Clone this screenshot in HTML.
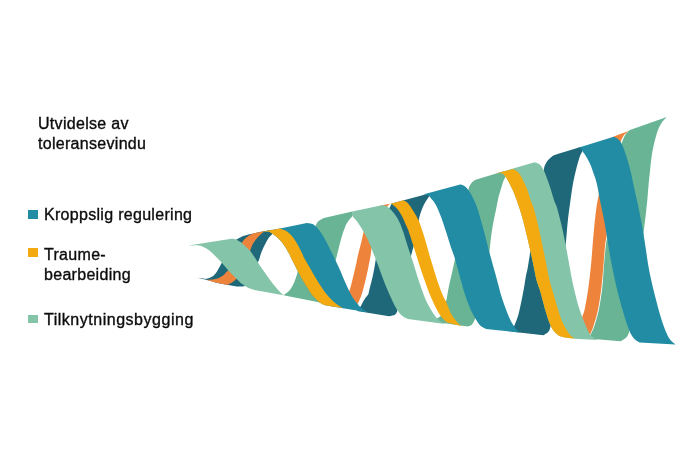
<!DOCTYPE html>
<html lang="no">
<head>
<meta charset="utf-8">
<title>Utvidelse av toleransevindu</title>
<style>
html,body{margin:0;padding:0;background:#fff;}
body{width:692px;height:462px;position:relative;overflow:hidden;font-family:"Liberation Sans",sans-serif;color:#0c0c0c;}
svg{position:absolute;left:0;top:0;}
.t{position:absolute;white-space:nowrap;font-size:16px;line-height:20px;letter-spacing:0.3px;-webkit-text-stroke:0.35px #0c0c0c;will-change:transform;}
.sq{position:absolute;width:9.4px;height:8.7px;}
</style>
</head>
<body>
<svg width="692" height="462" viewBox="0 0 692 462">
<path fill="#1f687a" d="M197.5 277.8L197.5 277.8C199 278 200.5 278.1 202 278.3C203.5 278.5 204.6 279.1 206.3 278.8C208 278.5 210.6 277.8 212.3 276.6C214 275.5 215.4 273.7 216.7 271.9C218 270.1 218.8 268.4 220.2 265.8C221.6 263.2 223.2 259.3 225 256C226.8 252.7 229.1 248.7 231 246C232.9 243.3 235.2 240.9 236.2 239.8C237.2 238.7 236.2 239.8 237.1 239.3C238 238.8 239.9 237.4 241.5 236.7C243.1 236 244.4 235.6 246.7 235C249 234.4 252.5 233.6 255.4 233C258.3 232.4 261.2 231.7 264 231.2C266.8 230.7 269.3 230.3 272 229.8L272 229.8C272.1 231.1 272.9 232.3 272.3 233.7C271.7 235.1 269.8 236.2 268.6 238C267.4 239.8 266.2 242.2 265 244.5C263.8 246.8 262.7 249 261.5 252C260.3 255 259.6 259 258 262.3C256.4 265.6 253.8 268.9 252 272C250.2 275.1 248.2 278.6 247 281C245.8 283.4 245.3 284.5 244.5 286.3L244.5 286.3C242.5 286.4 240.2 286.7 238.4 286.6C236.7 286.6 236.2 286.3 234 286C231.8 285.7 228.3 285.1 225.4 284.6C222.5 284.1 219.6 283.5 216.7 282.8C213.8 282.1 211.2 281 208 280.2C204.8 279.4 201 278.6 197.5 277.8Z"/>
<path fill="#ee843c" d="M207 279.8L207 279.8C208.7 279.7 210.4 279.8 212 279.6C213.6 279.4 214.9 279.4 216.7 278.8C218.5 278.2 221.2 276.9 222.8 275.8C224.4 274.7 225.3 273.2 226.2 272.3C227.1 271.4 226.9 272.7 228.4 270.1C229.9 267.5 232.8 261.1 235 256.5C237.2 251.9 240.1 245.9 241.9 242.8C243.7 239.7 244.6 239.2 245.8 238C247 236.8 248 236.2 249.3 235.4C250.6 234.6 252.2 234 253.6 233.3L264.9 231L264.9 231C263.7 231.9 262.7 232.5 261.4 233.7C260.1 234.9 258.5 236.3 257.1 238C255.7 239.7 254 242 252.8 244.1C251.7 246.2 251.3 247.6 250.2 250.6C249.1 253.6 247.5 258.5 246 262C244.5 265.5 242.6 268.8 241 271.5C239.4 274.2 237.9 276.6 236.5 278.4C235.1 280.2 233.7 281.3 232.3 282.3C231 283.3 229.7 283.6 228.4 284.2L228.4 284.9C227.4 284.8 227.4 285 225.4 284.6C223.4 284.2 219.6 283.5 216.7 282.8C213.8 282.1 209.6 280.7 208 280.2C206.4 279.7 207.3 279.9 207 279.8Z"/>
<path fill="#68b494" d="M283.5 295.2L283.5 295.2C285.1 294.1 286.8 293.1 288.2 291.8C289.6 290.5 290.6 289.1 291.6 287.5C292.6 285.9 293.4 284.2 294.2 282.3C295 280.4 295.8 277.9 296.4 276.2C297 274.5 296.9 274.6 297.7 271.9C298.5 269.2 299.6 264.3 301 260C302.4 255.7 304.3 250.3 306 246C307.7 241.7 309.4 237.3 311 234C312.6 230.7 314.1 228.1 315.4 225.9C316.7 223.7 317.2 222.3 318.6 221C320 219.7 322.1 218.9 323.8 217.9L352.3 211.6L352.3 211.6C352.3 213 353 214.2 352.4 215.8C351.8 217.4 349.5 219.3 348.4 220.9C347.3 222.5 346.7 223.3 345.8 225.2C344.9 227.1 344.1 229.5 343.2 232.1C342.3 234.7 341.4 237.9 340.6 240.8C339.8 243.7 339.1 246.6 338.4 249.5C337.7 252.4 336.7 256.1 336.2 258.2C335.7 260.3 335.8 259.2 335.5 262C335.2 264.8 334.9 270.3 334.5 275C334.1 279.7 333.8 285.1 333 290C332.2 294.9 331 299.7 330 304.5L283.5 295.2Z"/>
<path fill="#ee843c" d="M342 307L342 307C343 304.7 343.8 302.6 345 300C346.2 297.4 348.1 293.7 349.1 291.4C350.1 289.1 350.1 288.8 350.8 286.2C351.5 283.6 352.5 279.6 353.4 275.8C354.3 272.1 355.4 267.2 356.2 263.7C357 260.2 357.1 258.7 358 255C358.9 251.3 360.4 245.8 361.4 241.7C362.4 237.6 362.9 234 364 230.4C365.1 226.8 366.3 223.2 368 220C369.7 216.8 371.9 213.4 374 211C376.1 208.6 378.3 207.4 380.4 205.6L390 203.7L390 203.7C389.1 204.7 388.8 204.2 387.3 206.6C385.8 209 382.9 213.8 381 218C379.1 222.2 377.5 227.3 376 232C374.5 236.7 372.9 242.2 372 246C371.1 249.8 371.1 252.3 370.7 255C370.3 257.6 370 259 369.4 261.9C368.8 264.8 368.1 268.7 367.3 272.3C366.5 275.9 365.6 280.1 364.7 283.6C363.8 287.1 363 290.5 362.1 293.2C361.2 295.9 360.3 298.1 359.5 300C358.7 301.9 357.9 303.1 357.2 304.6C356.4 306.1 355.7 307.5 355 309L342 307Z"/>
<path fill="#1f687a" d="M357 311L357 311C358.1 309.7 358.9 309 360.2 307C361.5 305 363.4 301.1 364.7 299C366 296.9 367.4 295.8 368.1 294.5C368.8 293.2 368.4 293.9 369 291.4C369.6 288.9 371.1 283.1 372 279.3C372.9 275.6 373.6 271.9 374.2 268.9C374.8 265.9 374.9 264.6 375.5 261.1C376.1 257.6 377 252.8 378 248C379 243.2 380.2 237.2 381.5 232C382.8 226.8 384.1 221.2 385.5 217C386.9 212.8 389 209.2 390 207C391 204.8 391.1 204.7 391.7 203.5L429 193.6L429 193.6C429.1 194.4 430.2 194.1 429.3 196C428.4 197.9 425.5 201.4 423.8 204.9C422.1 208.4 420.5 212.5 419.4 217C418.3 221.5 417.7 228 417 232C416.3 236 415.9 238.4 415.3 241C414.7 243.6 413.8 245.8 413.2 247.8C412.6 249.8 412.2 251.3 411.8 253C411.4 254.7 411.4 254.3 410.6 258C409.8 261.7 408.4 268.8 407 275C405.6 281.2 403.6 289.2 402 295C400.4 300.8 398.8 306.2 397.7 309.5C396.6 312.8 396.6 313.4 395.2 314.5C393.8 315.6 391.1 315.7 389 316.3L364.7 312.3L357 311Z"/>
<path fill="#68b494" d="M430 321.3L430 321.3C432.3 320.4 435.1 319.7 437 318.6C438.9 317.6 440.3 316.8 441.5 315C442.7 313.2 443.4 310.4 444.2 308C445 305.6 445.5 304.1 446.3 300.5C447.1 296.9 447.9 291.5 448.9 286.6C449.9 281.7 451.4 275.6 452.4 271C453.4 266.4 454.1 263.2 455 258.9C455.9 254.6 456.8 250.7 458 245C459.2 239.3 460.7 231.7 462 225C463.3 218.3 465 210.5 466 205C467 199.5 467.5 194.8 468 192C468.5 189.2 468.5 189.1 468.8 188C469.1 186.9 469.4 186.1 470 185.2C470.6 184.2 471.3 183.1 472.1 182.3C472.9 181.5 473.7 180.8 474.7 180.2C475.7 179.6 477 179.3 478.2 178.9L504.4 171.1L504.4 171.1C504.7 172.9 505.5 174.8 505.3 176.5C505.1 178.2 504.1 179.1 503.4 181C502.7 182.9 501.9 185.7 501.2 188C500.5 190.3 499.6 193.3 499.1 194.9C498.6 196.5 498.9 195.1 498.4 197.6C497.9 200.1 496.7 206.2 496 209.8C495.3 213.4 494.8 214.8 494 218.9C493.2 223 492.1 229.2 491.4 234.5C490.6 239.8 490.4 243.8 489.5 250.5C488.6 257.2 487.4 266.8 486 275C484.6 283.2 482.6 293.5 481 300C479.4 306.5 477.6 310.7 476.5 314C475.4 317.3 475.2 318.2 474.5 320C473.8 321.8 473.1 323.4 472 324.5C470.9 325.6 469.3 325.8 468 326.5L439.4 322.6L430 321.3Z"/>
<path fill="#1f687a" d="M512 331.5L512 331.5C512.7 329.8 513 329.3 514 326.5C515 323.7 517 319.4 518.3 314.9C519.6 310.4 520.8 304.2 521.8 299.3C522.8 294.4 523.7 289.4 524.4 285.4C525.1 281.3 525.5 278 526.1 275C526.7 272 527.1 271.4 527.8 267.4C528.5 263.4 529.5 256.4 530.4 251C531.3 245.6 532 241 533 235C534 229 535.3 221.7 536.5 215C537.7 208.3 538.9 201.3 540 195C541.1 188.7 542.3 181.5 543 177C543.7 172.5 543.6 170.2 544.1 168C544.6 165.8 545.1 164.9 545.8 163.6C546.4 162.3 546.9 161.4 548 160.2C549.1 159 550.8 157.2 552.3 156.2C553.8 155.2 555.2 154.9 556.7 154.3L581.5 146.8L581.5 146.8C581.8 148.2 582.5 149.5 582.3 151C582.1 152.5 580.8 153.8 580.1 155.8C579.4 157.8 578.7 160 577.9 162.8C577.1 165.6 576.2 168.9 575.4 172.6C574.5 176.3 573.7 179.9 572.8 184.8C571.9 189.8 571.1 195.9 570.2 202.3C569.3 208.7 568.3 216.4 567.6 223.1C566.9 229.8 566.7 235.2 565.9 242.2C565.1 249.2 564.1 257 563 265C561.9 273 560.4 282.2 559 290C557.6 297.8 555.8 306.2 554.5 312C553.2 317.8 552 321.8 551 325C550 328.2 549.9 329.7 548.6 331.4C547.3 333.1 545.1 333.9 543.4 335.2L519.2 332.4L512 331.5Z"/>
<path fill="#68b494" d="M590.6 334.8L590.6 334.8C591.9 331.9 593 330.1 594.4 326C595.8 321.9 597.5 316.5 598.8 310.1C600.1 303.7 601.4 295 602.3 287.5C603.2 280 603.4 272.2 604 265C604.6 257.8 605.4 249 606 244C606.6 239 606.8 242.3 607.5 235C608.2 227.7 609.1 210 610 200C610.9 190 611.8 182.3 613 175C614.2 167.7 615.6 161.2 617 156C618.4 150.8 620.1 147 621.5 143.5C622.9 140 623.9 137.3 625.2 135.1C626.5 132.9 627.9 131.9 629.3 130.3L666.8 116.9L666.8 116.9C665.2 118.7 663.5 120 662 122.3C660.5 124.6 659 127.4 657.7 130.7C656.5 134 655.5 138.1 654.5 142C653.5 145.9 652.8 149.2 652 154C651.2 158.8 650.6 165.8 650 170.9C649.4 176 649 180.1 648.6 184.8C648.2 189.5 647.9 193.7 647.4 198.9C646.9 204.1 646.2 211 645.6 216.2C645 221.4 644.7 222.8 643.9 230.1C643.1 237.4 642.1 250 641 260C639.9 270 638.5 280.3 637 290C635.5 299.7 633.3 311 632 318C630.7 325 630.2 328.6 629.2 331.8C628.2 335.1 627.8 335.9 626.3 337.5C624.8 339.1 622.4 340 620.5 341.3L599.7 339.6L592 338.8L589.3 336.2L590.6 334.8Z"/>
<path fill="#ee843c" d="M578 333L578 333C578.7 330.3 579.3 327.7 580 325C580.7 322.3 581.5 319.8 582.3 317C583.1 314.2 583.9 313.2 584.9 308.3C585.9 303.4 587.4 294.7 588.4 287.5C589.4 280.3 590.1 274 591 265C591.9 256 592.7 242.9 593.6 233.6C594.5 224.3 595.3 215.8 596.2 209.3C597.1 202.8 597.8 199.7 598.8 194.5C599.8 189.3 600.8 183.8 602 178C603.2 172.2 604.7 165.3 606 160C607.3 154.7 608.7 149.9 610 146C611.3 142.1 612.5 139.7 613.7 136.5L628.5 130.9L628.5 130.9C627 132.3 625.3 133.2 624 135C622.7 136.8 621.9 138.7 620.6 142C619.3 145.3 617.4 149.5 616 155C614.6 160.5 613.2 167.5 612 175C610.8 182.5 609.9 189.9 609 200C608.1 210.1 607.2 228 606.6 235.3C606 242.6 605.7 239.1 605.2 244C604.7 248.9 604.1 257.8 603.5 265C602.9 272.2 602.3 280 601.4 287.5C600.5 295 599.2 303.7 597.9 310.1C596.6 316.5 594.9 321.6 593.6 325.7C592.3 329.8 591.3 331.5 590.1 334.4L578 333Z"/>
<path fill="#84c4a8" d="M188.4 245.5L188.4 245.5C191.9 245.5 195.7 244.9 198.9 245.5C202.1 246.1 204.9 247.7 207.5 249.3C210.1 250.9 212.2 253.1 214.5 255.3C216.8 257.5 219.1 259.8 221.4 262.3C223.7 264.8 226 267.9 228.3 270.4C230.6 272.9 233 275.1 235.3 277.4C237.6 279.7 239.9 282.2 242.2 284C244.5 285.8 247.2 287.3 249.2 288.3C251.2 289.3 252.7 289.4 254.4 290L283.5 295.2L283.5 295.2C282.2 293.9 280.9 292.8 279.5 291.4C278.1 290 276.9 288.7 275.2 286.6C273.5 284.5 271.1 281.6 269.1 278.8C267.1 276.1 264.8 272.7 263 270.1C261.2 267.5 259.8 265.4 258.4 263.2C257 261 255.9 259.1 254.5 257.1C253.1 255.1 251.5 252.6 250.2 251C248.9 249.4 248 248.8 246.7 247.5C245.4 246.2 243.9 244.5 242.3 243.2C240.7 241.9 238.5 240.6 237.1 239.9C235.7 239.2 234.9 239.1 234 238.9C233.1 238.7 232.3 238.8 231.5 238.8L188.4 245.5Z"/>
<path fill="#218ca4" d="M263.5 231.6L263.5 231.6C265.2 231.7 267.1 231.5 268.5 231.8C269.9 232.1 270.8 232.8 272.1 233.6C273.4 234.4 275.1 235.5 276.5 236.7C277.9 237.9 279.4 239.3 280.8 241C282.2 242.7 283.8 244.8 285.2 247.1C286.6 249.3 288.5 252.7 289.5 254.5C290.5 256.3 290.3 256.1 291.2 258C292.1 259.9 293.9 263.4 295.1 265.8C296.3 268.2 297.3 270.2 298.6 272.7C299.9 275.2 301.5 278.1 302.9 280.6C304.3 283.1 305.4 284.8 307.2 287.5C308.9 290.2 310.9 293.9 313.4 296.6C315.9 299.4 319.1 302.4 322 304C324.9 305.6 327.8 305.5 330.7 306.2L367.5 312.3L367.5 312.3C365.5 311 363.3 309.9 361.5 308.3C359.7 306.8 358.2 304.8 356.8 303C355.4 301.2 354.2 299.7 352.8 297.5C351.4 295.3 350 292.6 348.6 289.7C347.2 286.8 345.8 283.5 344.3 280.2C342.9 276.9 341.3 272.8 339.9 269.7C338.5 266.6 337.1 263.9 336 261.5C334.9 259.1 333.8 256.7 333 255C332.2 253.3 332.1 253.3 331 251.2C329.9 249.1 328.1 245.2 326.7 242.5C325.2 239.8 323.8 237 322.3 234.7C320.9 232.4 319.3 230.3 318 228.7C316.7 227.1 315.8 226 314.5 225.2C313.2 224.3 311.8 224 310.5 223.6C309.2 223.2 308 223.2 306.8 223L306.8 223L294.7 225.4L280 228.4L273 229.7L265.2 231.3L263.5 231.6Z"/>
<path fill="#f3a910" d="M263.5 231.6L263.5 231.6C265.2 231.7 267.1 231.5 268.5 231.8C269.9 232.1 270.8 232.8 272.1 233.6C273.4 234.4 275.1 235.5 276.5 236.7C277.9 237.9 279.4 239.3 280.8 241C282.2 242.7 283.8 244.8 285.2 247.1C286.6 249.3 288.5 252.7 289.5 254.5C290.5 256.3 290.3 256.1 291.2 258C292.1 259.9 293.9 263.4 295.1 265.8C296.3 268.2 297.3 270.2 298.6 272.7C299.9 275.2 301.5 278.1 302.9 280.6C304.3 283.1 305.4 284.8 307.2 287.5C308.9 290.2 310.9 293.9 313.4 296.6C315.9 299.4 319.1 302.4 322 304C324.9 305.6 327.8 305.5 330.7 306.2L342.8 308L342.8 308C340.5 306.5 338.5 305.8 335.9 303.6C333.3 301.4 330.1 298.4 327.2 294.9C324.3 291.4 321.5 287.2 318.6 282.7C315.7 278.2 312.4 272.1 310 268C307.6 263.9 305.4 260.3 304.2 258C302.9 255.7 303.5 256.1 302.5 254C301.5 251.9 299.6 248 298.2 245.4C296.8 242.8 295.2 240.4 293.8 238.4C292.4 236.4 290.9 234.9 289.5 233.6C288.1 232.3 286.8 231.4 285.2 230.6C283.6 229.8 281.7 229.2 280 228.5L273 229.7L265.2 231.3L263.5 231.6Z"/>
<path fill="#84c4a8" d="M352.3 211.6L352.3 211.6C352.3 213 351.7 214.2 352.4 215.8C353.1 217.4 355.1 218.8 356.7 221C358.3 223.2 360.2 225.9 361.9 228.8C363.6 231.7 365.4 234.7 367.1 238.3C368.8 241.9 370.7 246.5 372.3 250.5C373.9 254.5 375 257.4 376.9 262.3C378.8 267.2 381.4 274.6 383.5 280C385.6 285.4 387.4 289.8 389.5 294.5C391.6 299.2 394 304.5 396 308C398 311.5 399.5 313.4 401.5 315.3C403.5 317.2 405.8 317.8 408 319.1L445 323.9L445 323.9C443.8 323.3 442.9 323.1 441.4 322C439.9 320.9 437.9 319.6 436.2 317.5C434.5 315.4 432.8 312.7 431 309.7C429.2 306.7 427.7 304.5 425.6 299.5C423.5 294.5 420.7 286.4 418.5 279.9C416.3 273.4 414.4 266.4 412.5 260.6C410.6 254.8 408.8 249.7 407.3 245C405.8 240.3 404.3 235.2 403.5 232.6C402.7 230 402.9 231 402.3 229.5C401.8 228 401.1 225.9 400.2 223.8C399.3 221.7 398 219 396.7 216.9C395.4 214.8 393.8 212.8 392.3 211.2C390.9 209.6 389.1 208.2 388 207.3C386.9 206.4 386.3 206.2 385.5 205.8C384.7 205.4 383.8 205.2 383 204.9L352.3 211.6Z"/>
<path fill="#f3a910" d="M386.5 204.9L386.5 204.9C387.7 204.7 389 204.3 390 204.2C391 204.1 391.3 204 392.3 204.5C393.3 205 394.6 206.1 395.8 207.3C397 208.5 398.1 209.9 399.3 211.7C400.5 213.4 401.7 215.6 402.8 217.8C403.9 220 404.9 222.8 405.8 224.7C406.7 226.6 406.8 226.3 408 229.5C409.2 232.7 411.2 239.1 412.8 244C414.4 248.9 415.7 253.2 417.5 258.9C419.3 264.5 421.6 271.6 423.8 277.9C426 284.2 428.4 291 430.7 296.5C433 302 435.6 307.3 437.6 311C439.6 314.7 441.2 316.6 442.8 318.5C444.4 320.4 445.6 321.2 447 322.5L462 326.2L462 326.2C460.8 325.3 460.1 325.5 458.4 323.5C456.6 321.5 453.5 317.9 451.5 314.4C449.5 310.8 447.8 305.4 446.3 302.2C444.9 299 444.2 298.8 442.8 295.3C441.4 291.8 439.5 286.9 437.6 281.4C435.7 275.9 433.5 268.5 431.6 262.3C429.7 256.1 427.8 248.9 426.4 244C424.9 239.1 424.2 236.5 422.9 232.6C421.6 228.7 420.2 224.1 418.6 220.5C417 216.9 415.1 213.8 413.3 211C411.6 208.2 409.7 205.3 408.1 203.5C406.5 201.7 405.1 201.4 403.6 200.3L386.5 204.9Z"/>
<path fill="#218ca4" d="M423 194.6L423 194.6C424.3 194.6 425.9 194.4 427 194.7C428.1 195 428.6 195.5 429.3 196.2C430.1 196.9 430.4 197.6 431.5 199C432.6 200.4 434.3 201.9 435.9 204.9C437.5 207.9 439.4 212.4 441.1 217C442.8 221.6 444.8 227.9 446.3 232.6C447.8 237.3 448.8 240.6 450.2 245C451.6 249.4 453.3 253.4 455 258.9C456.7 264.4 458.4 271.5 460.2 277.9C462 284.2 463.8 291.1 465.8 297C467.8 302.9 470.1 308.5 472.3 313.1C474.6 317.7 477 321.7 479.3 324.4C481.6 327.1 483.9 327.5 486.2 329.1L519.2 332.6L519.2 332.6C517.5 330.5 515.7 329 514 326.3C512.3 323.6 510.8 321.4 508.8 316.6C506.8 311.8 504 304.4 501.8 297.5C499.6 290.6 497.9 282.9 495.7 275C493.5 267.1 491 258.3 488.8 250.1C486.6 241.9 484.6 233.2 482.5 225.8C480.4 218.5 478.5 211.4 476.5 206C474.5 200.6 472.4 196.6 470.6 193.5C468.9 190.4 467.6 188.7 466 187.2C464.4 185.7 462.7 185.4 461 184.5L460.2 184.4L423 194.6Z"/>
<path fill="#84c4a8" d="M496 173.6L496 173.6C497.5 173.4 499.2 172.9 500.5 173C501.8 173.1 502.7 173.6 503.5 174.2C504.3 174.8 504.6 175.5 505.3 176.5C506 177.5 506.8 178.4 507.8 180.2C508.8 182 510 184.6 511.2 187.1C512.4 189.6 513.4 191.5 514.7 194.9C516 198.3 517.7 202.9 519.2 207.5C520.7 212.1 522.1 216.9 523.5 222.3C524.9 227.7 526.6 234.9 527.8 239.7C528.9 244.5 529.4 246.4 530.4 251C531.4 255.6 532.9 262.6 533.9 267.4C534.9 272.2 535.5 276.1 536.5 280C537.5 283.9 538.5 285.7 540 290.6C541.5 295.6 543.5 303.9 545.2 309.7C546.9 315.5 548.7 321.4 550.4 325.3C552.1 329.2 553.6 331.1 555.6 333.1C557.6 335.1 559.3 336.2 562.5 337.1C565.7 338.1 570.8 338.2 575 338.8L598 340L598 340C596.8 339.4 595.8 339.1 594.5 338.2C593.2 337.3 591.6 336.5 590.1 334.4C588.6 332.3 587.5 329.8 585.8 325.7C584.1 321.6 581.7 316.5 579.7 310.1C577.7 303.7 575.4 294.9 573.7 287.5C572 280.1 570.8 273.1 569.4 265.5C568 257.9 566.5 249.2 565.1 242C563.7 234.8 562.2 228.1 560.8 222.3C559.4 216.5 558 210.8 556.8 207C555.6 203.2 555 203 553.8 199.4C552.6 195.8 551.1 190.1 549.5 185.5C547.9 180.9 545.9 175.1 544.3 171.6C542.7 168.1 541.6 166.2 540 164.7C538.4 163.1 536.4 163.1 534.6 162.3L496 173.6Z"/>
<path fill="#f3a910" d="M496 173.6L496 173.6C497.5 173.4 499.2 172.9 500.5 173C501.8 173.1 502.7 173.6 503.5 174.2C504.3 174.8 504.6 175.5 505.3 176.5C506 177.5 506.8 178.4 507.8 180.2C508.8 182 510 184.6 511.2 187.1C512.4 189.6 513.4 191.5 514.7 194.9C516 198.3 517.7 202.9 519.2 207.5C520.7 212.1 522.1 216.9 523.5 222.3C524.9 227.7 526.6 234.9 527.8 239.7C528.9 244.5 529.4 246.4 530.4 251C531.4 255.6 532.9 262.6 533.9 267.4C534.9 272.2 535.5 276.1 536.5 280C537.5 283.9 538.5 285.7 540 290.6C541.5 295.6 543.5 303.9 545.2 309.7C546.9 315.5 548.7 321.4 550.4 325.3C552.1 329.2 553.6 331.1 555.6 333.1C557.6 335.1 559.3 336.2 562.5 337.1C565.7 338.1 570.8 338.2 575 338.8L574.8 338.7L574.8 338.7C573.3 337.5 571.9 336.8 570.4 335.2C568.9 333.6 567.5 331.6 566 329.1C564.5 326.6 563 323.6 561.7 320.4C560.4 317.2 559.7 314.7 558.2 310C556.8 305.3 554.5 297.3 553 292.3C551.5 287.3 550.5 284.1 549.5 280C548.5 275.9 547.9 272.4 546.9 267.4C545.9 262.4 544.8 257 543.4 250.1C542 243.2 539.9 232.9 538.2 225.8C536.6 218.7 534.8 211.9 533.5 207.5C532.2 203.1 531.4 202.4 530.4 199.4C529.4 196.4 528.3 192.5 527.3 189.7C526.3 186.9 525.3 185.1 524.2 182.8C523.1 180.5 521.9 177.7 520.8 175.8C519.6 173.9 518.6 172.7 517.3 171.5C516 170.3 514.4 169.8 513 168.9L496 173.6Z"/>
<path fill="#218ca4" d="M577.5 148L577.5 148C578.5 148.1 579.7 147.8 580.5 148.3C581.3 148.8 581.5 149.8 582.3 151C583.1 152.2 584.2 153.4 585.5 155.6C586.8 157.8 588.6 160.6 590.1 164C591.6 167.4 593.3 172.6 594.5 176.1C595.7 179.6 596.2 181.2 597.1 185C598 188.8 598.6 193.1 599.7 198.9C600.9 204.7 602.7 212.8 604 219.7C605.3 226.6 606.2 232.9 607.5 240.5C608.8 248.1 610.2 256.9 611.8 265C613.4 273.1 615.1 281.5 617 289.3C618.9 297.1 621.1 304.9 623.1 311.8C625.1 318.7 627.4 326 629.3 330.5C631.1 335 632.5 336.7 634.2 338.7C635.9 340.7 637.9 341.3 639.7 342.6L675.5 344.6L675.5 344.6C673.5 342.6 671.3 341.3 669.5 338.7C667.7 336.1 666.3 332.9 664.8 329C663.2 325.1 661.7 320.2 660.2 315.3C658.7 310.4 657.4 305.2 656 299.7C654.6 294.2 653 288.1 651.7 282.3C650.4 276.5 649.2 270.8 648.2 265C647.2 259.2 646.6 253.8 645.6 247.4C644.6 241 643.5 233.8 642.2 226.6C640.9 219.4 639.2 211 637.8 204.1C636.3 197.2 634.6 190.2 633.5 185C632.4 179.8 632 177.3 630.9 172.6C629.8 167.9 628 161.6 626.6 157C625.2 152.4 623.6 147.8 622.2 144.9C620.8 142 619.7 140.7 618.3 139.3C616.9 137.9 615.2 137.6 613.7 136.7L577.5 148Z"/>
</svg>
<div class="t" id="t1" style="left:38px;top:113.7px;">Utvidelse av<br>toleransevindu</div>
<div class="sq" style="left:28.4px;top:210.3px;background:#218ca4;"></div>
<div class="t" id="t2" style="left:44px;top:204.7px;">Kroppslig regulering</div>
<div class="sq" style="left:28.4px;top:248.3px;background:#f3a910;"></div>
<div class="t" id="t3" style="left:44px;top:244.5px;">Traume-<br>bearbeiding</div>
<div class="sq" style="left:28.4px;top:314.6px;background:#84c4a8;"></div>
<div class="t" id="t4" style="left:44px;top:310.1px;letter-spacing:0.52px;">Tilknytningsbygging</div>
</body>
</html>
